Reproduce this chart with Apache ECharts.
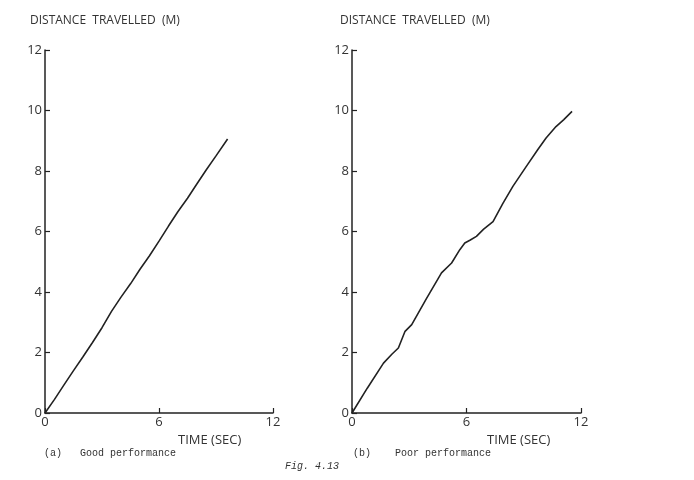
<!DOCTYPE html>
<html>
<head>
<meta charset="utf-8">
<script src="https://cdn.jsdelivr.net/npm/echarts@6/dist/echarts.min.js"></script>
<style>
  html, body { margin: 0; padding: 0; background: #fff; }
  #chart { width: 694px; height: 480px; }
</style>
</head>
<body>
<div id="chart"></div>
<script>
  // (a) good performance - time (sec) / distance (m)
  var timeA = [0, 0.5, 1, 1.5, 2, 2.5, 3, 3.5, 4, 4.5, 5, 5.5, 6, 6.5, 7, 7.5, 8, 8.5, 9, 9.61]
  var distA = [0, 0.45, 0.93, 1.4, 1.86, 2.33, 2.82, 3.36, 3.83, 4.27, 4.75, 5.2, 5.68, 6.18, 6.66, 7.1, 7.58, 8.05, 8.5, 9.06]
  // (b) poor performance
  var timeB = [0, 0.8, 1.65, 2.1, 2.43, 2.78, 3.13, 3.9, 4.69, 5.22, 5.65, 5.91, 6.2, 6.52, 6.9, 7.39, 7.9, 8.43, 9.1, 9.73, 10.17, 10.69, 11.1, 11.53]
  var distB = [0, 0.82, 1.65, 1.95, 2.15, 2.7, 2.92, 3.78, 4.63, 4.96, 5.4, 5.62, 5.72, 5.84, 6.08, 6.33, 6.92, 7.49, 8.12, 8.7, 9.09, 9.47, 9.7, 9.97]

  function pairs(xs, ys) {
    return xs.map(function (x, i) { return [x, ys[i]] })
  }

  var axisFont = 'Open Sans'
  var ink = '#333'

  function xAx(idx) {
    return {
      type: 'value', gridIndex: idx, min: 0, max: 12, interval: 6,
      axisLine: { lineStyle: { color: '#222', width: 1.5 } },
      axisTick: { inside: true, length: 5, lineStyle: { color: '#222', width: 1.2 } },
      axisLabel: { color: ink, fontFamily: axisFont, fontSize: 13, margin: 3 },
      splitLine: { show: false }
    }
  }
  function yAx(idx) {
    return {
      type: 'value', gridIndex: idx, min: 0, max: 12, interval: 2,
      axisLine: { show: true, lineStyle: { color: '#222', width: 1.5 } },
      axisTick: { show: true, inside: true, length: 5, lineStyle: { color: '#222', width: 1.2 } },
      axisLabel: { color: ink, fontFamily: axisFont, fontSize: 13, margin: 3 },
      splitLine: { show: false }
    }
  }

  function txt(text, left, top, style) {
    return { text: text, left: left, top: top, textStyle: Object.assign({ fontWeight: 'normal', color: ink }, style) }
  }
  var sans = { fontFamily: axisFont, fontSize: 12 }
  var mono = { fontFamily: 'Liberation Mono', fontSize: 10 }

  var chart = echarts.init(document.getElementById('chart'))
  chart.setOption({
    backgroundColor: '#fff',
    animation: false,
    title: [
      txt('DISTANCE  TRAVELLED  (M)', 25, 10, sans),
      txt('DISTANCE  TRAVELLED  (M)', 335, 10, sans),
      txt('TIME (SEC)', 173, 429, { fontFamily: axisFont, fontSize: 13 }),
      txt('TIME (SEC)', 482, 429, { fontFamily: axisFont, fontSize: 13 }),
      txt('(a)   Good performance', 39, 443, mono),
      txt('(b)    Poor performance', 348, 443, mono),
      txt('Fig. 4.13', 280, 456, Object.assign({ fontStyle: 'italic' }, mono))
    ],
    grid: [
      { left: 45, top: 50, width: 228, height: 363 },
      { left: 352, top: 50, width: 229, height: 363 }
    ],
    xAxis: [xAx(0), xAx(1)],
    yAxis: [yAx(0), yAx(1)],
    series: [
      {
        type: 'line', xAxisIndex: 0, yAxisIndex: 0, data: pairs(timeA, distA),
        showSymbol: false, smooth: false, lineStyle: { color: '#222', width: 1.6 }
      },
      {
        type: 'line', xAxisIndex: 1, yAxisIndex: 1, data: pairs(timeB, distB),
        showSymbol: false, smooth: false, lineStyle: { color: '#222', width: 1.6 }
      }
    ]
  })
</script>
</body>
</html>
